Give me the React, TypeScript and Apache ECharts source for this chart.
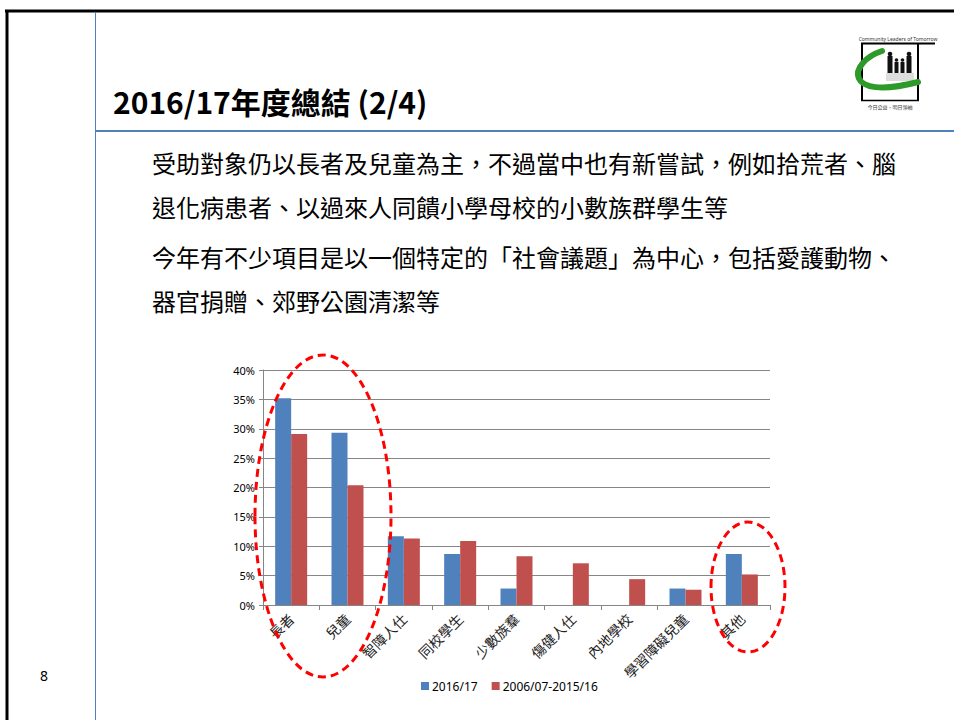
import React, { useEffect, useRef } from "react";
import * as echarts from "echarts";

const categories = ["長者", "兒童", "智障人仕", "同校學生", "少數族羣", "傷健人仕", "內地學校", "學習障礙兒童", "其他"];
const series2016 = [35.2, 29.3, 11.7, 8.7, 2.8, 0, 0, 2.8, 8.7];
const seriesPast = [29.1, 20.4, 11.3, 10.9, 8.3, 7.1, 4.4, 2.6, 5.2];
const seriesNames = ["2016/17", "2006/07-2015/16"];
const titleText = "2016/17年度總結 (2/4)";
const bodyLines = [
  "受助對象仍以長者及兒童為主，不過當中也有新嘗試，例如拾荒者、腦",
  "退化病患者、以過來人同饋小學母校的小數族群學生等",
  "今年有不少項目是以一個特定的「社會議題」為中心，包括愛護動物、",
  "器官捐贈、郊野公園清潔等",
];
const bodyY = [162, 206, 256, 300];

const CJK = '"Noto Sans CJK TC", "Noto Sans", sans-serif';

export default function App() {
  const ref = useRef<HTMLDivElement>(null);
  useEffect(() => {
    document.body.style.margin = "0";
    const chart = echarts.init(ref.current!, null, { renderer: "svg" });
    const blue = "#4f81bd";
    const red = "#c0504d";
    const graphic: any[] = [
      // slide frame
      { type: "line", shape: { x1: 5, y1: 11, x2: 954, y2: 11 }, style: { stroke: "#000", lineWidth: 3 } },
      { type: "line", shape: { x1: 7, y1: 10, x2: 7, y2: 720 }, style: { stroke: "#000", lineWidth: 3 } },
      { type: "line", shape: { x1: 95.5, y1: 12, x2: 95.5, y2: 720 }, style: { stroke: blue, lineWidth: 1 } },
      { type: "line", shape: { x1: 95, y1: 131, x2: 954, y2: 131 }, style: { stroke: blue, lineWidth: 2 } },
      // title
      {
        type: "text",
        x: 113,
        y: 101,
        style: { text: titleText, font: `bold 30px ${CJK}`, fill: "#000", verticalAlign: "middle" },
      },
      // body text
      ...bodyLines.map((t, i) => ({
        type: "text",
        x: 152,
        y: bodyY[i],
        style: { text: t, font: `24px ${CJK}`, fill: "#000", verticalAlign: "middle" },
      })),
      // page number
      {
        type: "text",
        x: 44,
        y: 675,
        style: { text: "8", font: '14px "Noto Sans", sans-serif', fill: "#000", align: "center", verticalAlign: "middle" },
      },
      // logo
      {
        type: "group",
        children: [
          { type: "text", x: 898, y: 39, style: { text: "Community Leaders of Tomorrow", font: '5px "Noto Sans", sans-serif', fill: "#333", align: "center", verticalAlign: "middle" } },
          { type: "line", shape: { x1: 861, y1: 43.5, x2: 935, y2: 43.5 }, style: { stroke: "#000", lineWidth: 2 } },
          { type: "line", shape: { x1: 862, y1: 43, x2: 862, y2: 101 }, style: { stroke: "#000", lineWidth: 2 } },
          { type: "line", shape: { x1: 918, y1: 43, x2: 918, y2: 101 }, style: { stroke: "#000", lineWidth: 2 } },
          { type: "line", shape: { x1: 861, y1: 100.5, x2: 919, y2: 100.5 }, style: { stroke: "#000", lineWidth: 1.5 } },
          { type: "rect", shape: { x: 886, y: 73, width: 28, height: 8 }, style: { fill: "#ddd" } },
          { type: "circle", shape: { cx: 890, cy: 54, r: 2.3 }, style: { fill: "#111" } },
          { type: "rect", shape: { x: 887.5, y: 56, width: 5, height: 17 }, style: { fill: "#111" } },
          { type: "circle", shape: { cx: 896.5, cy: 60, r: 1.8 }, style: { fill: "#111" } },
          { type: "rect", shape: { x: 894.5, y: 62, width: 4, height: 11 }, style: { fill: "#111" } },
          { type: "circle", shape: { cx: 902.5, cy: 60, r: 1.8 }, style: { fill: "#111" } },
          { type: "rect", shape: { x: 900.5, y: 62, width: 4, height: 11 }, style: { fill: "#111" } },
          { type: "circle", shape: { cx: 909, cy: 54, r: 2.3 }, style: { fill: "#111" } },
          { type: "rect", shape: { x: 906.5, y: 56, width: 5, height: 17 }, style: { fill: "#111" } },
          {
            type: "bezierCurve",
            shape: { x1: 882, y1: 51, cpx1: 848, cpy1: 62, cpx2: 842, cpy2: 102, x2: 918, y2: 82 },
            style: { stroke: "#2e9a2a", lineWidth: 6, fill: null, lineCap: "round" },
          },
          { type: "text", x: 890, y: 106, style: { text: "今日公益，明日領袖", font: `5px ${CJK}`, fill: "#333", align: "center", verticalAlign: "middle" } },
        ],
      },
      // red dashed ellipses
      {
        type: "ellipse",
        z: 100,
        shape: { cx: 323, cy: 516, rx: 68, ry: 161 },
        style: { fill: null, stroke: "#ff0000", lineWidth: 3, lineDash: [8, 5] },
      },
      {
        type: "ellipse",
        z: 100,
        shape: { cx: 748, cy: 587, rx: 37, ry: 65 },
        style: { fill: null, stroke: "#ff0000", lineWidth: 3, lineDash: [8, 5] },
      },
    ];

    chart.setOption({
      animation: false,
      backgroundColor: "#fff",
      graphic,
      grid: { left: 263, right: 184, top: 370, bottom: 115, containLabel: false },
      legend: {
        left: 416,
        top: 675,
        itemWidth: 8,
        itemHeight: 8,
        itemGap: 14,
        icon: "rect",
        textStyle: { fontFamily: '"Noto Sans", sans-serif', fontSize: 12, color: "#000", padding: [0, 0, 0, -2] },
        data: seriesNames,
      },
      xAxis: {
        type: "category",
        data: categories,
        boundaryGap: true,
        axisLine: { lineStyle: { color: "#868686" } },
        axisTick: { show: true, length: 5, lineStyle: { color: "#868686" } },
        axisLabel: { rotate: 45, fontFamily: CJK, fontSize: 14, color: "#222", margin: 11, interval: 0 },
      },
      yAxis: {
        type: "value",
        min: 0,
        max: 40,
        interval: 5,
        axisLine: { show: true, lineStyle: { color: "#868686" } },
        axisTick: { show: true, length: 4, lineStyle: { color: "#868686" } },
        axisLabel: { formatter: "{value}%", fontFamily: '"Noto Sans", sans-serif', fontSize: 11, color: "#000", margin: 8 },
        splitLine: { lineStyle: { color: "#868686" } },
      },
      series: [
        { name: seriesNames[0], type: "bar", data: series2016, barWidth: 16, barGap: "0%", itemStyle: { color: blue } },
        { name: seriesNames[1], type: "bar", data: seriesPast, barWidth: 16, barGap: "0%", itemStyle: { color: red } },
      ],
    });
    return () => chart.dispose();
  }, []);
  return <div ref={ref} style={{ position: "absolute", left: 0, top: 0, width: 954, height: 720 }} />;
}
